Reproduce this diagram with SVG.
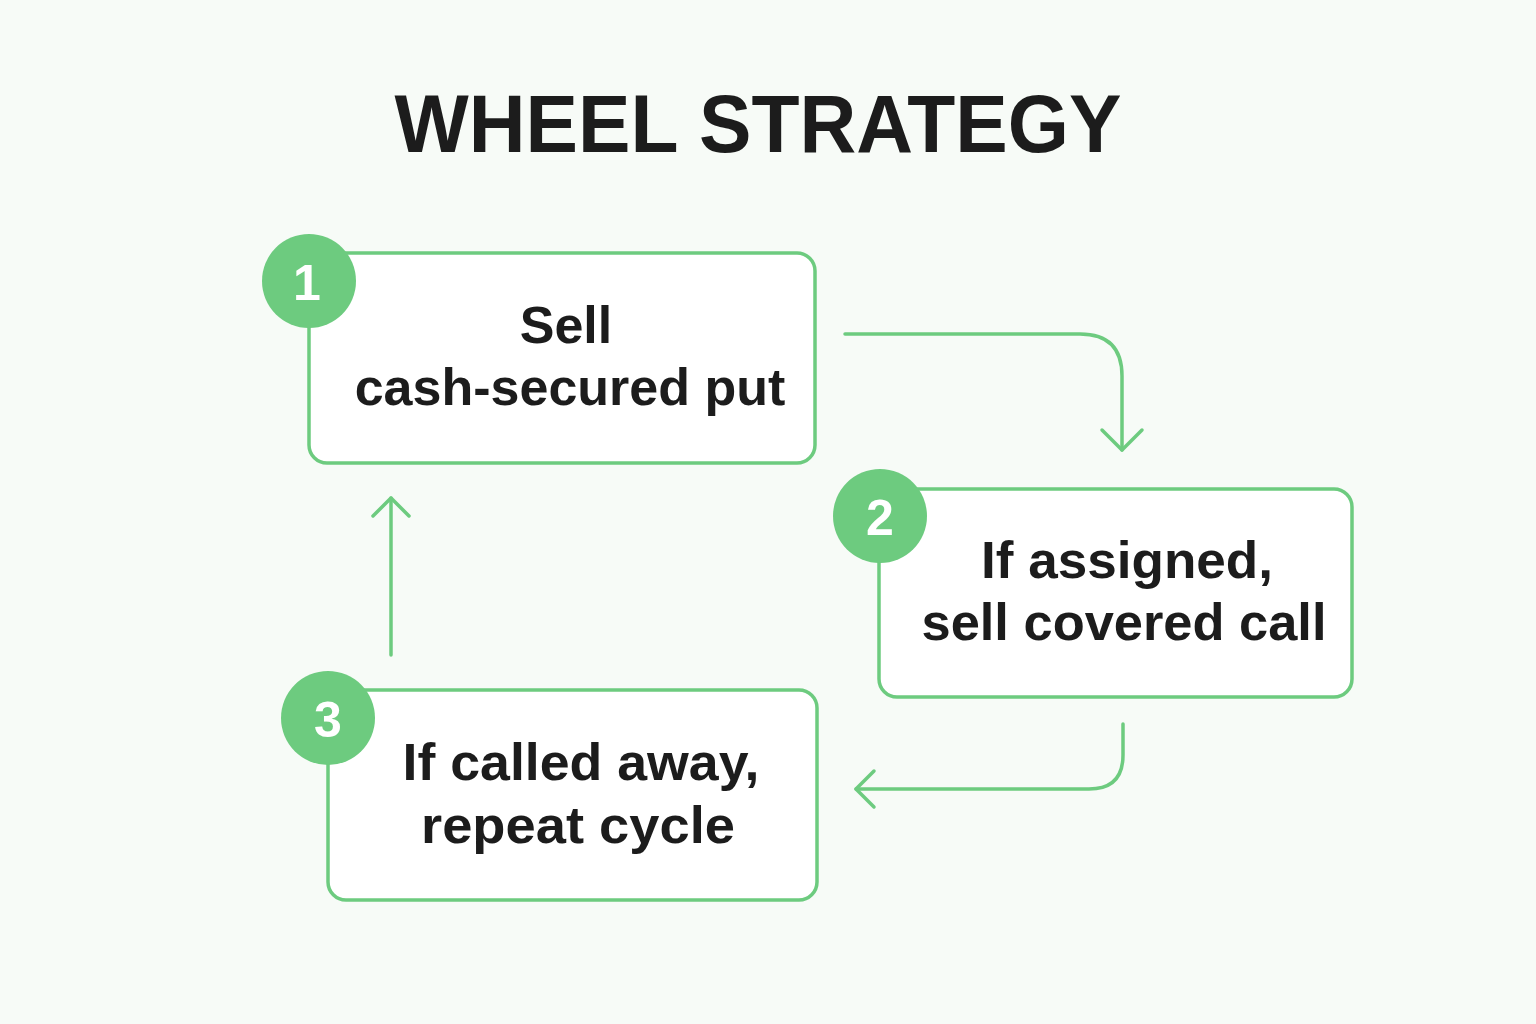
<svg xmlns="http://www.w3.org/2000/svg" width="1536" height="1024" viewBox="0 0 1536 1024">
  <style>
    .box { fill: #ffffff; stroke: #6dcb7f; stroke-width: 3.5; }
    .badge { fill: #6dcb7f; }
    .num { font-family: "Liberation Sans", Arial, sans-serif; font-weight: bold; font-size: 50px; fill: #ffffff; text-anchor: middle; }
    .lbl { font-family: "Liberation Sans", Arial, sans-serif; font-weight: bold; font-size: 52px; fill: #1c1c1c; text-anchor: middle; }
    .title { font-family: "Liberation Sans", Arial, sans-serif; font-weight: bold; font-size: 82px; fill: #1c1c1c; text-anchor: middle; }
    .conn { fill: none; stroke: #6dcb7f; stroke-width: 3.5; stroke-linecap: round; stroke-linejoin: round; }
  </style>
  <rect width="1536" height="1024" fill="#f7fbf7"/>
  <text class="title" x="758" y="152" textLength="727" lengthAdjust="spacingAndGlyphs">WHEEL STRATEGY</text>

  <g id="connectors">
    <path class="conn" d="M845 334 H1080 Q1122 334 1122 376 V450"/>
    <path class="conn" d="M1102 430 L1122 450 L1142 430"/>
    <path class="conn" d="M1123 724 V755 Q1123 789 1089 789 H856"/>
    <path class="conn" d="M874 771 L856 789 L874 807"/>
    <path class="conn" d="M391 655 V498"/>
    <path class="conn" d="M373 516 L391 498 L409 516"/>
  </g>

  <g id="node1">
    <rect class="box" x="309" y="253" width="506" height="210" rx="18"/>
    <circle class="badge" cx="309" cy="281" r="47"/>
    <text class="num" x="307" y="300">1</text>
    <text class="lbl" x="566" y="343">Sell</text>
    <text class="lbl" x="570" y="405">cash-secured put</text>
  </g>

  <g id="node2">
    <rect class="box" x="879" y="489" width="473" height="208" rx="18"/>
    <circle class="badge" cx="880" cy="516" r="47"/>
    <text class="num" x="880" y="535">2</text>
    <text class="lbl" x="1127" y="578" textLength="292" lengthAdjust="spacingAndGlyphs">If assigned,</text>
    <text class="lbl" x="1124" y="640" textLength="405" lengthAdjust="spacingAndGlyphs">sell covered call</text>
  </g>

  <g id="node3">
    <rect class="box" x="328" y="690" width="489" height="210" rx="18"/>
    <circle class="badge" cx="328" cy="718" r="47"/>
    <text class="num" x="328" y="737">3</text>
    <text class="lbl" x="581" y="780" textLength="357" lengthAdjust="spacingAndGlyphs">If called away,</text>
    <text class="lbl" x="578" y="843" textLength="314" lengthAdjust="spacingAndGlyphs">repeat cycle</text>
  </g>
</svg>
